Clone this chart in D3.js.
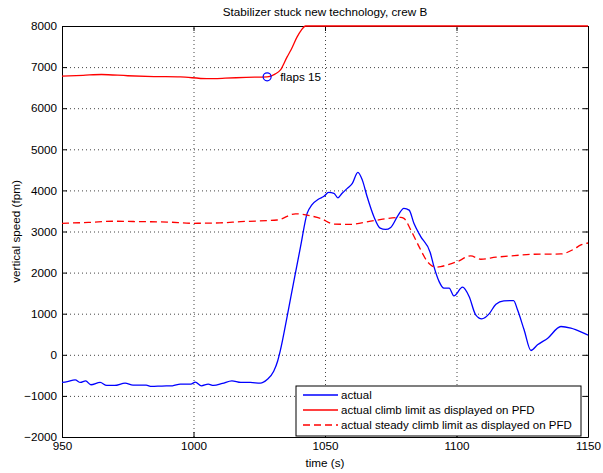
<!DOCTYPE html>
<html>
<head>
<meta charset="utf-8">
<script src="https://cdn.jsdelivr.net/npm/d3@7"></script>
<style>
  body { margin: 0; background: #fff; }
  text { font-family: "Liberation Sans", Arial, sans-serif; }
</style>
</head>
<body>
<div id="container"></div>
<script>
const width = 603,
  height = 473,
  margin = { top: 26, bottom: 36, left: 62, right: 15 }

/* DATA */
const actualTime = [950, 952, 955, 957, 959, 961, 964.5, 967, 970, 974, 977, 982, 984, 988, 992, 995, 999, 1000.7, 1003, 1005.6,
  1007.6, 1011, 1014.6, 1018, 1021.6, 1025.4, 1028, 1030.5, 1032, 1033, 1035.6, 1038, 1040.7, 1043.2, 1045, 1047.6,
  1049.5, 1051.4, 1053.4, 1054.9, 1056.5, 1058.5, 1060.4, 1062.5, 1064.2, 1066, 1068.6, 1071, 1073, 1075, 1077.5,
  1080, 1082, 1083.8, 1086.4, 1090, 1091.4, 1093.4, 1095.2, 1097.2, 1099, 1102.3, 1104.8, 1107.3, 1109.6, 1112.4,
  1115, 1118, 1121.7, 1123.2, 1125.7, 1128.3, 1130.8, 1134.7, 1139.7, 1143.5, 1149.2, 1150]
const actualSpeed = [-673, -650, -610, -673, -635, -729, -673, -746, -746, -689, -738, -738, -770, -760, -754, -713, -713, -664, -754, -713,
  -746, -697, -632, -673, -673, -689, -600, -400, -150, 100, 930, 1740, 2630, 3440, 3645, 3790,
  3850, 3950, 3930, 3820, 3930, 4050, 4170, 4440, 4250, 3850, 3360, 3080, 3050, 3100, 3360,
  3565, 3520, 3200, 2875, 2490, 2150, 1780, 1620, 1620, 1434, 1645, 1418, 972, 875, 996,
  1232, 1312, 1320, 1094, 608, 105, 243, 405, 688, 648, 502, 480]

const climbTime = [950, 958, 965, 975, 985, 995, 1005, 1012, 1020, 1028, 1031, 1033, 1035.6, 1037, 1039.4, 1041, 1042.6, 1150]
const climbLimit = [6780, 6800, 6820, 6790, 6770, 6760, 6720, 6730, 6750, 6763, 6830, 6926, 7250, 7410, 7735, 7900, 8000, 8000]

const steadyTime = [950, 960, 970, 980, 990, 1000, 1010, 1018, 1031.8, 1038.8, 1044.5, 1048.3, 1053.4, 1059.7, 1068.6, 1078.8,
  1080, 1082.6, 1084, 1086.4, 1088.9, 1090.2, 1092, 1094, 1096.5, 1100.3, 1105.4, 1109.2, 1115, 1122, 1129.5, 1139.7,
  1144.8, 1147.3, 1150]
const steadyLimit = [3200, 3220, 3250, 3240, 3230, 3200, 3210, 3240, 3280, 3430, 3380, 3320, 3180, 3175, 3265, 3345,
  3320, 3040, 2860, 2552, 2268, 2187, 2131, 2146, 2187, 2268, 2406, 2325, 2374, 2414, 2447, 2454,
  2576, 2673, 2720]

const flapsTime = 1028, flapsValue = 6763, flapsLabel = "flaps 15"

const xTicks = [950, 1000, 1050, 1100, 1150]
const yTicks = [-2000, -1000, 0, 1000, 2000, 3000, 4000, 5000, 6000, 7000, 8000]

const legendLabels = ["actual", "actual climb limit as displayed on PFD", "actual steady climb limit as displayed on PFD"]

const zipData = (ts, vs) => ts.map((t, i) => ({ t: t, v: vs[i] }))
const series = [
  { name: legendLabels[0], color: "#0000ff", dash: null, data: zipData(actualTime, actualSpeed) },
  { name: legendLabels[1], color: "#ff0000", dash: null, data: zipData(climbTime, climbLimit) },
  { name: legendLabels[2], color: "#ff0000", dash: "7,4", data: zipData(steadyTime, steadyLimit) }
]

const fontSize = 11.7

// SCALES
const xScale = d3.scaleLinear()
  .domain([950, 1150])
  .range([margin.left, width - margin.right])

const yScale = d3.scaleLinear()
  .domain([-2000, 8000])
  .range([height - margin.bottom, margin.top])

const svg = d3.select("#container")
  .append("svg")
  .attr("width", width)
  .attr("height", height)

// GRID (dotted)
svg.append("g")
  .attr("transform", `translate(0,${height - margin.bottom})`)
  .call(d3.axisBottom(xScale).tickValues(xTicks.slice(1, -1)).tickSize(-(height - margin.top - margin.bottom)).tickFormat(""))
  .call(g => g.select(".domain").remove())
  .call(g => g.selectAll("line").attr("stroke", "#444").attr("stroke-dasharray", "1,3"))

svg.append("g")
  .attr("transform", `translate(${margin.left},0)`)
  .call(d3.axisLeft(yScale).tickValues(yTicks.slice(1, -1)).tickSize(-(width - margin.left - margin.right)).tickFormat(""))
  .call(g => g.select(".domain").remove())
  .call(g => g.selectAll("line").attr("stroke", "#444").attr("stroke-dasharray", "1,3"))

// AXES (ticks inside, like matlab)
const fmt = d3.format("d")
const styleAxis = g => {
  g.select(".domain").attr("stroke", "#000")
  g.selectAll("line").attr("stroke", "#000")
  g.selectAll("text").attr("font-size", fontSize).attr("font-family", "'Liberation Sans', Arial, sans-serif").attr("fill", "#000")
}
svg.append("g")
  .attr("transform", `translate(0,${height - margin.bottom})`)
  .call(d3.axisBottom(xScale).tickValues(xTicks).tickSize(-5).tickSizeOuter(0).tickPadding(5).tickFormat(fmt))
  .call(styleAxis)
svg.append("g")
  .attr("transform", `translate(0,${margin.top})`)
  .call(d3.axisTop(xScale).tickValues(xTicks).tickSize(-5).tickSizeOuter(0).tickFormat(""))
  .call(styleAxis)
svg.append("g")
  .attr("transform", `translate(${margin.left},0)`)
  .call(d3.axisLeft(yScale).tickValues(yTicks).tickSize(-5).tickSizeOuter(0).tickPadding(5).tickFormat(fmt))
  .call(styleAxis)
svg.append("g")
  .attr("transform", `translate(${width - margin.right},0)`)
  .call(d3.axisRight(yScale).tickValues(yTicks).tickSize(-5).tickSizeOuter(0).tickFormat(""))
  .call(styleAxis)

// LINES
const lineGen = d3.line()
  .x(d => xScale(d.t))
  .y(d => yScale(d.v))
  .curve(d3.curveMonotoneX)

svg.selectAll(".line")
  .data(series)
  .join("path")
  .attr("class", "line")
  .attr("fill", "none")
  .attr("stroke", d => d.color)
  .attr("stroke-width", 1.3)
  .attr("stroke-dasharray", d => d.dash)
  .attr("d", d => lineGen(d.data))

// flaps marker
svg.append("circle")
  .attr("cx", xScale(flapsTime))
  .attr("cy", yScale(flapsValue))
  .attr("r", 4)
  .attr("fill", "none")
  .attr("stroke", "#0000ff")
  .attr("stroke-width", 1.2)
svg.append("text")
  .attr("x", xScale(flapsTime) + 13)
  .attr("y", yScale(flapsValue) + 4)
  .attr("font-size", fontSize)
  .text(flapsLabel)

// TITLE + LABELS
svg.append("text")
  .attr("x", (margin.left + width - margin.right) / 2)
  .attr("y", 16)
  .attr("text-anchor", "middle")
  .attr("font-size", fontSize)
  .text("Stabilizer stuck new technology, crew B")

svg.append("text")
  .attr("x", (margin.left + width - margin.right) / 2)
  .attr("y", 467)
  .attr("text-anchor", "middle")
  .attr("font-size", fontSize)
  .text("time (s)")

svg.append("text")
  .attr("transform", `translate(20,${(margin.top + height - margin.bottom) / 2}) rotate(-90)`)
  .attr("text-anchor", "middle")
  .attr("font-size", fontSize)
  .text("vertical speed (fpm)")

// LEGEND
const legend = svg.append("g").attr("transform", "translate(296,386)")
legend.append("rect")
  .attr("width", 285)
  .attr("height", 50)
  .attr("fill", "#fff")
  .attr("stroke", "#000")
  .attr("stroke-width", 1)

const rows = legend.selectAll(".row")
  .data(series)
  .join("g")
  .attr("class", "row")
  .attr("transform", (d, i) => `translate(0,${9 + i * 15})`)
rows.append("line")
  .attr("x1", 7).attr("x2", 42)
  .attr("stroke", d => d.color)
  .attr("stroke-width", 1.3)
  .attr("stroke-dasharray", d => d.dash)
rows.append("text")
  .attr("x", 45)
  .attr("y", 4)
  .attr("font-size", fontSize - 0.2)
  .text(d => d.name)
</script>
</body>
</html>
